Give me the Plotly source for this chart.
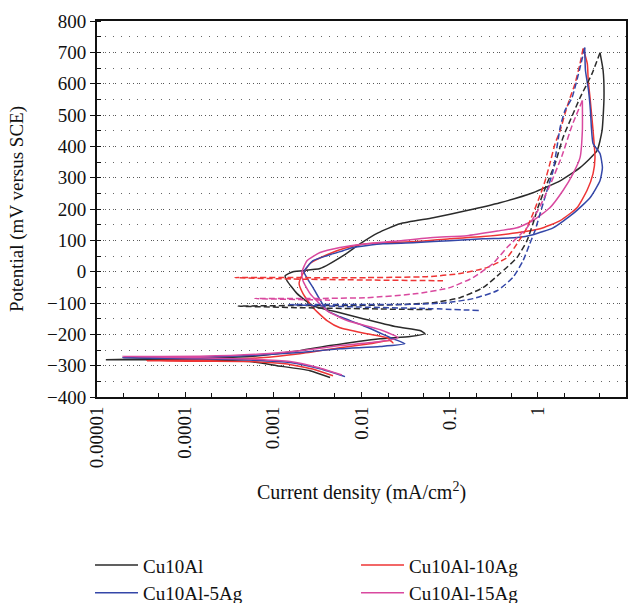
import plotly.graph_objects as go

# ---------------- data (current density in mA/cm2, potential in mV vs SCE) ----------------
cu10al_fwd_i = [4.4e-3, 2.6e-3, 1.1e-3, 5.4e-4, 1.47e-4, 4.0e-5, 1.26e-5, 4.0e-5, 1.47e-4, 5.4e-4,
                2.0e-3, 4.4e-3, 1.62e-2, 3.55e-2, 5.25e-2, 4.6e-2, 2.53e-2, 1.04e-2, 5.7e-3, 2.82e-3,
                1.86e-3, 1.43e-3, 1.36e-3, 1.67e-3, 3.39e-3, 6.2e-3, 9.6e-3, 1.54e-2, 2.73e-2, 6.5e-2,
                0.157, 0.372, 0.88, 1.79, 3.01, 4.69, 5.35, 5.63, 5.5, 5.07]
cu10al_fwd_e = [-338, -316, -300, -287, -282, -281, -281, -278, -276, -271,
                -252, -236, -214, -207, -198, -188, -176, -150, -131, -109,
                -70, -29, -13, 0, 10, 51, 89, 124, 153, 172,
                195, 220, 252, 290, 332, 386, 450, 555, 642, 699]
cu10al_rev_i = [5.07, 4.12, 3.01, 2.51, 1.93, 1.57, 1.27, 1.0, 0.88, 0.753, 0.58, 0.372, 0.239,
                0.131, 0.065, 0.0273, 7.4e-3, 2.0e-3, 4.0e-4, 2.0e-3, 0.0273, 0.063]
cu10al_rev_e = [699, 632, 555, 504, 428, 345, 281, 204, 153, 99, 45, -6, -51,
                -83, -99, -105, -108, -108, -110, -115, -120, -121]

ag5_fwd_i = [6.5e-3, 3.39e-3, 1.55e-3, 5.4e-4, 1.47e-4, 1.97e-5, 1.47e-4, 7.05e-4, 2.0e-3, 5.7e-3,
             1.62e-2, 3.11e-2, 2.28e-2, 1.04e-2, 5.7e-3, 4.06e-3, 2.82e-3, 2.23e-3, 2.82e-3, 4.06e-3,
             6.17e-3, 8.0e-3, 1.75e-2, 4.26e-2, 0.1, 0.239, 0.58, 0.88, 1.49, 2.51,
             3.91, 5.07, 5.4, 5.07, 4.23, 4.05, 3.95, 3.76, 3.47, 3.4]
ag5_fwd_e = [-335, -310, -290, -282, -278, -275, -273, -266, -258, -246,
             -239, -230, -214, -172, -144, -124, -51, 0, 35, 51,
             67, 77, 89, 93, 99, 105, 109, 118, 140, 185,
             236, 290, 332, 377, 409, 460, 514, 578, 642, 715]
ag5_rev_i = [3.4, 3.01, 2.44, 2.03, 1.79, 1.49, 1.27, 1.06, 0.93, 0.81, 0.68, 0.52, 0.344,
             0.184, 0.093, 0.0426, 7.4e-3, 1.5e-3, 7.4e-3, 0.06, 0.221]
ag5_rev_e = [715, 651, 555, 514, 460, 322, 259, 185, 131, 89, 35, -19, -61,
             -86, -99, -104, -105, -105, -112, -118, -124]

ag10_fwd_i = [4.75e-3, 2.97e-3, 1.36e-3, 5.4e-4, 1.47e-4, 3.69e-5, 1.47e-4, 7.05e-4, 2.0e-3, 5.7e-3,
              1.25e-2, 2.1e-2, 2.28e-2, 1.95e-2, 1.15e-2, 5.7e-3, 4.06e-3, 2.82e-3, 2.17e-3, 1.96e-3,
              2.1e-3, 2.61e-3, 4.06e-3, 6.85e-3, 1.15e-2, 4.26e-2, 0.1, 0.239, 0.58, 1.06,
              1.79, 2.78, 3.61, 4.23, 4.45, 4.23, 3.91, 3.73, 3.64, 3.26]
ag10_fwd_e = [-332, -313, -294, -287, -286, -284, -282, -275, -262, -243,
              -230, -220, -227, -211, -198, -179, -156, -115, -70, -38,
              -13, 26, 54, 77, 89, 96, 105, 112, 124, 137,
              163, 204, 259, 313, 364, 450, 555, 610, 664, 712]
ag10_rev_i = [3.26, 3.01, 2.64, 2.32, 2.03, 1.79, 1.57, 1.37, 1.21, 1.06, 0.88, 0.753, 0.58,
              0.447, 0.265, 0.131, 5.53e-2, 1.15e-2, 2.0e-3, 3.67e-4, 2.0e-3, 1.62e-2, 8.4e-2]
ag10_rev_e = [712, 664, 600, 555, 504, 450, 409, 345, 290, 243, 185, 140, 89,
              45, 13, -6, -16, -19, -19, -19, -24, -27, -29]

ag15_fwd_i = [6.0e-3, 3.21e-3, 1.55e-3, 5.4e-4, 1.47e-4, 1.97e-5, 1.47e-4, 7.05e-4, 2.0e-3, 5.7e-3,
              1.62e-2, 2.59e-2, 1.62e-2, 6.85e-3, 4.06e-3, 2.61e-3, 2.17e-3, 2.1e-3, 2.41e-3, 3.39e-3,
              5.7e-3, 1.15e-2, 2.73e-2, 6.5e-2, 0.157, 0.372, 0.58, 0.88, 1.37, 1.93,
              2.51, 3.01, 3.2, 3.2]
ag15_fwd_e = [-330, -306, -287, -279, -275, -271, -270, -263, -252, -236,
              -223, -211, -185, -156, -124, -70, -29, -3, 35, 61,
              77, 89, 99, 109, 115, 131, 140, 163, 204, 259,
              313, 364, 450, 546]
ag15_rev_i = [3.2, 2.44, 1.88, 1.37, 1.0, 0.753, 0.447, 0.31, 0.184, 0.1, 4.26e-2, 1.15e-2,
              2.0e-3, 6.19e-4, 4.4e-3]
ag15_rev_e = [546, 466, 370, 275, 195, 140, 77, 26, -19, -51, -70, -83,
              -86, -86, -91]

x_tick_vals = [1e-5, 1e-4, 1e-3, 1e-2, 1e-1, 1, 10]
x_tick_text = ["0.00001", "0.0001", "0.001", "0.01", "0.1", "1", "10"]

# ---------------- styling ----------------
FONT = "Liberation Serif"
series = [
    ("Cu10Al", cu10al_fwd_i, cu10al_fwd_e, cu10al_rev_i, cu10al_rev_e, "#2b2b2b"),
    ("Cu10Al-10Ag", ag10_fwd_i, ag10_fwd_e, ag10_rev_i, ag10_rev_e, "#ee3535"),
    ("Cu10Al-5Ag", ag5_fwd_i, ag5_fwd_e, ag5_rev_i, ag5_rev_e, "#3447a8"),
    ("Cu10Al-15Ag", ag15_fwd_i, ag15_fwd_e, ag15_rev_i, ag15_rev_e, "#d9499f"),
]

fig = go.Figure()
for name, fi, fe, ri, re_, col in series:
    fig.add_trace(go.Scatter(x=fi, y=fe, mode="lines", name=name,
                             line=dict(color=col, width=1.5, shape="spline", smoothing=0.5)))
for name, fi, fe, ri, re_, col in series:
    fig.add_trace(go.Scatter(x=ri, y=re_, mode="lines", name=name + " reverse", showlegend=False,
                             line=dict(color=col, width=1.5, dash="6px,3px", shape="spline", smoothing=0.5)))

fig.update_layout(
    width=633, height=603,
    margin=dict(l=97, r=7, t=21, b=206, autoexpand=False),
    paper_bgcolor="white", plot_bgcolor="white",
    font=dict(family=FONT, size=19, color="#111"),
    showlegend=True,
    legend=dict(orientation="h", x=-0.0132, y=-0.397, xanchor="left", yanchor="top",
                entrywidth=208, entrywidthmode="pixels", itemwidth=43,
                font=dict(family=FONT, size=19),
                bgcolor="rgba(0,0,0,0)", tracegroupgap=0),
)
fig.update_xaxes(
    type="log", range=[-5, 1], automargin=False,
    tickvals=x_tick_vals, ticktext=x_tick_text, tickangle=-90,
    ticks="inside", ticklen=5, tickcolor="#111",
    minor=dict(ticks="inside", ticklen=4, tickcolor="#111", showgrid=False),
    showline=True, linecolor="#111", linewidth=2, mirror=True,
    showgrid=False, zeroline=False,
    title=dict(text="Current density (mA/cm<sup>2</sup>)", standoff=18, font=dict(size=20)),
    tickfont=dict(size=19),
)
fig.update_yaxes(
    range=[-400, 800], dtick=100, tick0=0, automargin=False,
    ticks="outside", ticklen=5, tickcolor="#111",
    minor=dict(dtick=50, ticks="inside", ticklen=4, tickcolor="#111",
               showgrid=True, gridcolor="#666", griddash="1px,7px", gridwidth=1),
    showline=True, linecolor="#111", linewidth=2, mirror=True,
    showgrid=True, gridcolor="#555", griddash="1px,5px", gridwidth=1,
    zeroline=False,
    title=dict(text="Potential (mV versus SCE)", standoff=18, font=dict(size=19)),
    tickfont=dict(size=19),
)

fig.write_html("out.html", config={"displayModeBar": False},
               post_script="document.body.style.margin='0';document.body.style.padding='0';")
